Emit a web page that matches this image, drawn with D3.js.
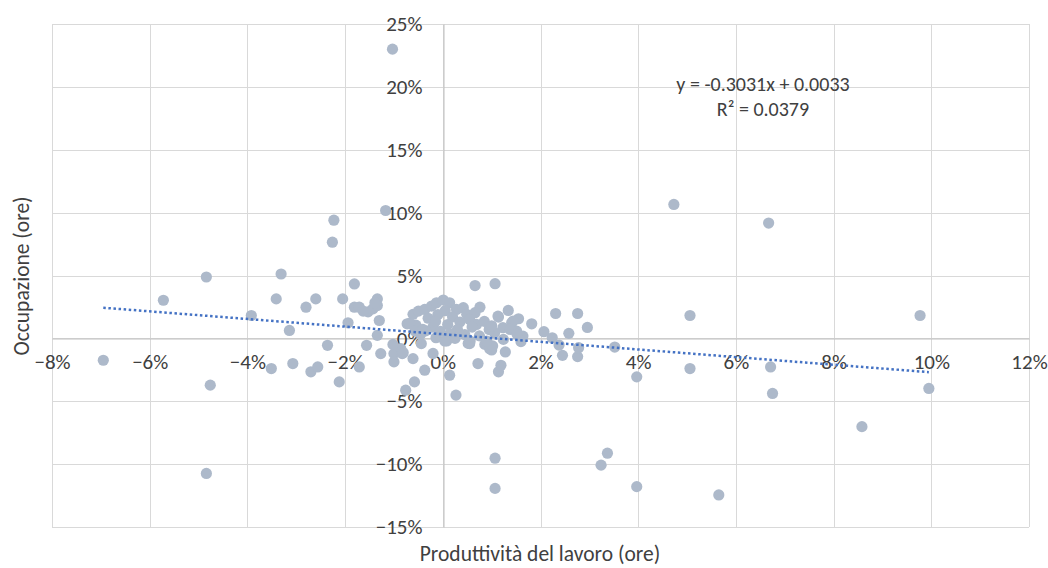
<!DOCTYPE html>
<html>
<head>
<meta charset="utf-8">
<script src="https://cdn.jsdelivr.net/npm/d3@7"></script>
<style>
  body { margin: 0; background: #fff; }
  text { font-family: Carlito, Lato, "Liberation Sans", sans-serif; fill: #404040; }
</style>
</head>
<body>
<svg id="chart" width="1048" height="568"></svg>
<script>
// Labour productivity growth (hours) per observation
const productivity = [
  -0.0695, -0.0572, -0.0484, -0.0476, -0.0484, -0.0392, -0.0331, -0.0341, -0.0314, -0.0351,
  -0.0307, -0.0280, -0.0260, -0.0270, -0.0256, -0.0236, -0.0212, -0.0205, -0.0194, -0.0181,
  -0.0181, -0.0171, -0.0171, -0.0156, -0.0153, -0.0143, -0.0134, -0.0134, -0.0130, -0.0134,
  -0.0127, -0.0100, -0.0100, -0.0083, -0.0086, -0.0061, -0.0076, -0.0058, -0.0037, -0.0044,
  -0.0073, 0.0014, 0.0027, -0.0223, -0.0226, -0.0117, -0.0103, -0.0139, -0.0163, -0.0102,
  -0.0081,
  0.0066, 0.0107, 0.0076, 0.0134, 0.0114, 0.0155, 0.0141, 0.0182, 0.0231, 0.0276,
  0.0296, 0.0258, 0.0207, 0.0224, 0.0238, 0.0245, 0.0276, 0.0278, 0.0352, 0.0506,
  0.0977, 0.0506, 0.0397, 0.0671, 0.0675, 0.0995, 0.0858, 0.0337, 0.0324, 0.0107,
  0.0107, 0.0397, 0.0565, 0.0473, 0.0667, 0.0072, 0.0114, 0.0119, 0.0128, 0.0100,
  0.0160, 0.0055, 0.0025,
  -0.0061, -0.0050, -0.0037, -0.0023, -0.0013, 0.0001, 0.0014, 0.0028, 0.0042, 0.0049,
  0.0066, 0.0113, 0.0144, 0.0069, 0.0123, 0.0151, 0.0164, 0.0106, -0.0055, -0.0030,
  -0.0010, 0.0005, 0.0020, 0.0035, 0.0010, -0.0020, 0.0030, 0.0055, 0.0085, 0.0095,
  0.0045, 0.0015, -0.0005, 0.0075, 0.0100, -0.0035, 0.0060, -0.0015, -0.0045, -0.0068,
  -0.0057, -0.0014, 0.0008, 0.0052, 0.0086, 0.0096, 0.0102, 0.0138, 0.0152, 0.0124,
  0.0090, 0.0056, 0.0004, -0.0020, -0.0041
];

// Employment growth (hours) per observation
const employment = [
  -0.0174, 0.0303, 0.0488, -0.0372, -0.1074, 0.0182, 0.0512, 0.0314, 0.0063, -0.0240,
  -0.0200, 0.0248, 0.0314, -0.0266, -0.0227, -0.0055, -0.0346, 0.0314, 0.0124, 0.0433,
  0.0248, 0.0248, -0.0227, -0.0055, 0.0211, 0.0235, 0.0314, 0.0261, 0.0142, 0.0024,
  -0.0121, -0.0121, -0.0187, -0.0121, -0.0082, -0.0161, -0.0412, -0.0346, -0.0253, -0.0042,
  0.0116, -0.0293, -0.0451, 0.0940, 0.0765, 0.1017, 0.2300, 0.0283, 0.0217, -0.0048,
  -0.0114,
  0.0420, 0.0435, 0.0248, 0.0222, 0.0169, 0.0156, 0.0124, 0.0116, 0.0198, 0.0198,
  0.0087, 0.0040, 0.0053, 0.0005, -0.0053, -0.0135, -0.0145, -0.0074, -0.0069, 0.0182,
  0.0182, -0.0240, -0.0306, -0.0227, -0.0438, -0.0398, -0.0702, -0.0913, -0.1008, -0.0953,
  -0.1193, -0.1179, -0.1245, 0.1065, 0.0917, -0.0200, -0.0266, -0.0214, -0.0108, -0.0092,
  -0.0026, -0.0042, 0.0000,
  0.0191, 0.0217, 0.0230, 0.0257, 0.0283, 0.0305, 0.0283, 0.0230, 0.0244, 0.0191,
  0.0204, 0.0177, 0.0138, 0.0111, 0.0085, 0.0058, 0.0018, 0.0045, 0.0105, 0.0160,
  0.0190, 0.0220, 0.0170, 0.0130, 0.0110, 0.0090, 0.0070, 0.0150, 0.0135, 0.0070,
  0.0030, 0.0035, 0.0055, 0.0020, 0.0100, 0.0060, 0.0090, 0.0135, 0.0035, 0.0120,
  0.0058, 0.0005, -0.0021, -0.0040, -0.0048, -0.0082, -0.0060, 0.0071, 0.0032, -0.0008,
  -0.0021, -0.0021, -0.0021, -0.0120, 0.0071
];

const xTicks = [-0.08, -0.06, -0.04, -0.02, 0, 0.02, 0.04, 0.06, 0.08, 0.10, 0.12];
const yTicks = [-0.15, -0.10, -0.05, 0, 0.05, 0.10, 0.15, 0.20, 0.25];

// Linear trend fitted on the series
const trendSlope = -0.3031;
const trendIntercept = 0.0033;
const trendR2 = 0.0379;

const xTitle = "Produttività del lavoro (ore)";
const yTitle = "Occupazione (ore)";

const points = productivity.map((p, i) => ({ x: p, y: employment[i] }));

const svg = d3.select("#chart");
const x = d3.scaleLinear().domain([-0.08, 0.12]).range([52, 1029]);
const y = d3.scaleLinear().domain([-0.15, 0.25]).range([527, 24]);
const pct = d3.format(".0%");

// grid
const grid = svg.append("g").attr("stroke", "#d9d9d9").attr("stroke-width", 1);
grid.selectAll("line.v").data(xTicks).join("line").attr("class", "v")
  .attr("x1", d => Math.round(x(d)) + 0.5).attr("x2", d => Math.round(x(d)) + 0.5)
  .attr("y1", y(0.25)).attr("y2", y(-0.15));
grid.selectAll("line.h").data(yTicks).join("line").attr("class", "h")
  .attr("y1", d => Math.round(y(d)) + 0.5).attr("y2", d => Math.round(y(d)) + 0.5)
  .attr("x1", x(-0.08)).attr("x2", x(0.12));

// axes through the origin
const tickFont = 21;
const xAxis = svg.append("g")
  .attr("transform", `translate(0,${Math.round(y(0)) + 0.5})`)
  .call(d3.axisBottom(x).tickValues(xTicks).tickFormat(pct).tickSize(0).tickPadding(16));
const yAxis = svg.append("g")
  .attr("transform", `translate(${Math.round(x(0)) + 0.5},0)`)
  .call(d3.axisLeft(y).tickValues(yTicks).tickFormat(pct).tickSize(0).tickPadding(21));
[xAxis, yAxis].forEach(g => {
  g.select(".domain").attr("stroke", "#bfbfbf").attr("stroke-width", 1);
  g.selectAll("text").attr("font-size", tickFont).attr("fill", "#404040")
    .style("font-family", "Carlito, Lato, sans-serif");
});

// scatter
svg.append("g").selectAll("circle").data(points).join("circle")
  .attr("cx", d => x(d.x)).attr("cy", d => y(d.y)).attr("r", 5.6)
  .attr("fill", "#adb9ca");

// trend line
const [xmin, xmax] = d3.extent(productivity);
svg.append("path")
  .datum([xmin, xmax])
  .attr("d", d3.line().x(d => x(d)).y(d => y(trendSlope * d + trendIntercept)))
  .attr("fill", "none").attr("stroke", "#4472c4").attr("stroke-width", 2.5)
  .attr("stroke-dasharray", "2.5 2.6");

// equation label
const eq = svg.append("text").attr("x", 763).attr("y", 91).attr("text-anchor", "middle")
  .attr("font-size", 20).attr("fill", "#404040");
eq.append("tspan").attr("x", 763).text(`y = ${trendSlope.toFixed(4)}x + ${trendIntercept.toFixed(4)}`);
eq.append("tspan").attr("x", 763).attr("dy", 25).text(`R² = ${trendR2.toFixed(4)}`);

// axis titles
svg.append("text").attr("x", 540).attr("y", 561).attr("text-anchor", "middle")
  .attr("font-size", 21.5).attr("fill", "#404040").text(xTitle);
svg.append("text").attr("transform", "translate(29,276) rotate(-90)")
  .attr("text-anchor", "middle").attr("font-size", 21.5).attr("fill", "#404040").text(yTitle);
</script>
</body>
</html>
